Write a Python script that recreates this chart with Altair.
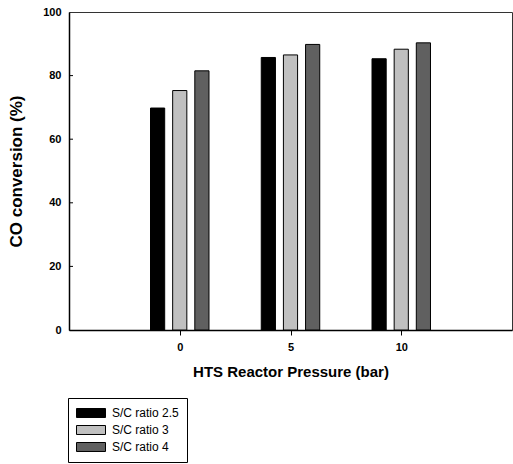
import altair as alt
import pandas as pd

# ---- data ----
pressures = [0, 5, 10]
series_names = ["S/C ratio 2.5", "S/C ratio 3", "S/C ratio 4"]
sc_25 = [69.8, 85.7, 85.3]
sc_3 = [75.3, 86.5, 88.3]
sc_4 = [81.5, 89.8, 90.3]
x_ticks = [0, 5, 10]
y_ticks = [0, 20, 40, 60, 80, 100]
inner_y_ticks = [20, 40, 60, 80]
colors = ["#000000", "#c0c0c0", "#606060"]

rows = []
for name, vals in zip(series_names, [sc_25, sc_3, sc_4]):
    for p, v in zip(pressures, vals):
        rows.append({"pressure": p, "series": name, "value": v})
df = pd.DataFrame(rows)

FONT = "Liberation Sans"

yscale = alt.Scale(domain=[0, 100], nice=False, zero=True)
xscale = alt.Scale(domain=[-5, 15], nice=False, zero=False)

bars = (
    alt.Chart(df)
    .transform_calculate(
        slot="indexof(['S/C ratio 2.5','S/C ratio 3','S/C ratio 4'], datum.series) - 1"
    )
    .transform_calculate(
        xa="datum.pressure + datum.slot - 0.32",
        xb="datum.pressure + datum.slot + 0.32",
    )
    .mark_bar(stroke="black", strokeWidth=1)
    .encode(
        x=alt.X(
            "xa:Q",
            scale=xscale,
            axis=alt.Axis(
                values=x_ticks,
                title="HTS Reactor Pressure (bar)",
                grid=False,
                tickSize=5,
                labelPadding=6,
                titlePadding=12,
                titleFontSize=15,
            ),
        ),
        x2="xb:Q",
        y=alt.Y(
            "value:Q",
            scale=yscale,
            axis=alt.Axis(
                values=y_ticks,
                title="CO conversion (%)",
                grid=False,
                tickSize=0,
                labelPadding=8,
                titlePadding=17,
                titleFontSize=17,
            ),
        ),
        y2=alt.datum(0),
        color=alt.Color(
            "series:N",
            scale=alt.Scale(domain=series_names, range=colors),
            legend=alt.Legend(
                title=None,
                orient="none",
                legendX=-1,
                legendY=386,
                direction="vertical",
                strokeColor="black",
                padding=8,
                symbolType="M-1,-0.31H1V0.31H-1Z",
                symbolSize=841,
                symbolStrokeColor="black",
                symbolStrokeWidth=1,
                symbolOpacity=1,
                clipHeight=14,
                labelFont=FONT,
                labelFontSize=12,
                labelColor="black",
                labelOffset=6,
                rowPadding=3,
            ),
        ),
    )
)

tick_df = pd.DataFrame({"v": inner_y_ticks})
inner_ticks = (
    alt.Chart(tick_df)
    .mark_rule(color="black", strokeWidth=1)
    .encode(
        y=alt.Y("v:Q", scale=yscale),
        x=alt.value(0),
        x2=alt.value(4),
    )
)

chart = (
    alt.layer(bars, inner_ticks)
    .properties(
        width=443,
        height=318,
        autosize=alt.AutoSizeParams(type="none"),
        padding={"left": 69, "top": 12, "right": 1, "bottom": 134},
        background="white",
    )
    .configure_view(stroke="#333333", strokeWidth=1)
    .configure_axis(
        labelFont=FONT,
        labelFontSize=11,
        labelFontWeight="bold",
        labelColor="black",
        titleFont=FONT,
        titleFontWeight="bold",
        titleColor="black",
        domainColor="black",
        domainWidth=1.5,
        tickColor="black",
    )
)

chart.save("out.html", embed_options={"renderer": "svg", "actions": False})
